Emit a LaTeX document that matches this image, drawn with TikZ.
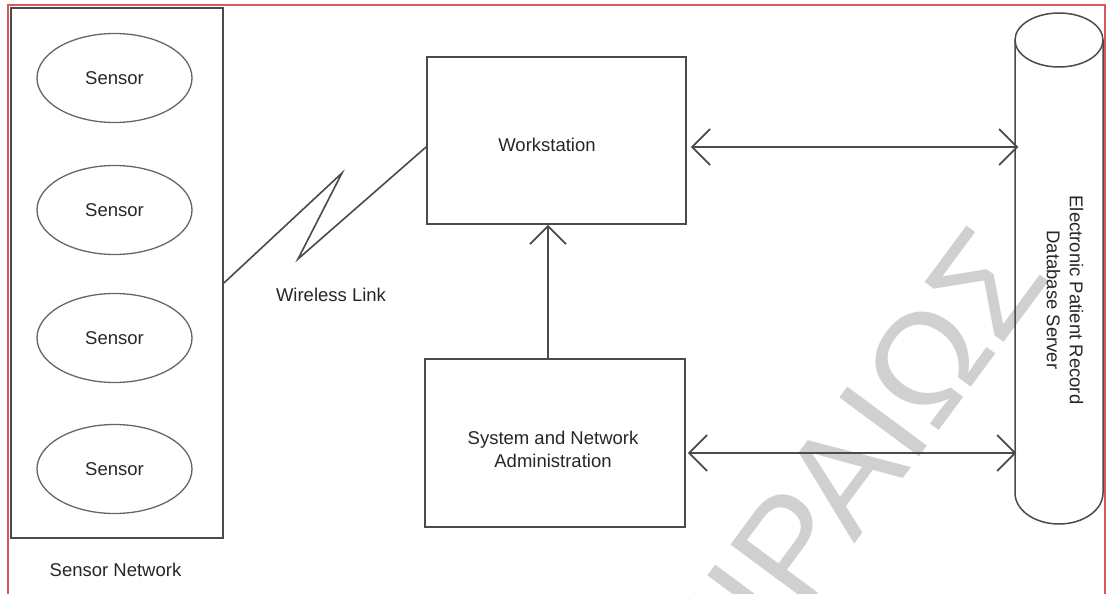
\documentclass[tikz,border=0pt]{standalone}
\usepackage{fontspec}
\setmainfont{Liberation Sans}
\usetikzlibrary{arrows.meta,shapes.geometric}

\definecolor{ink}{HTML}{4A4A4A}
\definecolor{txt}{HTML}{262626}
\definecolor{frame}{HTML}{D65A5A}
\definecolor{wm}{HTML}{D0D0D0}

\begin{document}
\begin{tikzpicture}[x=1pt,y=-1pt,
  box/.style={draw=ink, line width=1.8pt, rectangle, inner sep=0pt},
  sensor/.style={draw=ink!85, line width=1.3pt, ellipse, inner sep=0pt,
    minimum width=155pt, minimum height=89pt,
    font=\fontsize{18.5}{22}\selectfont, text=txt},
  lbl/.style={font=\fontsize{18.5}{23}\selectfont, text=txt, align=center, inner sep=0pt},
  link/.style={draw=ink, line width=1.6pt, line join=miter},
  conn/.style={draw=ink, line width=1.7pt},
  >={Straight Barb[length=18pt,width=36pt]}
]
\useasboundingbox (0,0) rectangle (1106,594);

% faint watermark lettering behind the drawing
\begin{scope}
  \clip (0,0) rectangle (1106,594);
  \node[rotate=53.5, text=wm, inner sep=0pt,
        font=\fontsize{144}{144}\selectfont] (wmark) at (816,512) {ΠΕΙΡΑΙΩΣ};
\end{scope}

% page frame, open at the bottom
\draw[frame, line width=1.4pt] (8,594) -- (8,5) -- (1105,5) -- (1105,594);

% sensor network
\node[box, minimum width=212pt, minimum height=530pt] (net) at (117,273) {};
\node[sensor] (s1) at (114.5,78) {Sensor};
\node[sensor] (s2) at (114.5,210) {Sensor};
\node[sensor] (s3) at (114.5,338) {Sensor};
\node[sensor] (s4) at (114.5,469) {Sensor};
\node[lbl] (netlbl) at (115.5,570) {Sensor Network};

% workstation and administration
\node[box, minimum width=259pt, minimum height=167pt] (ws) at (556.5,140.5) {};
\node[lbl] (wslbl) at (547,145) {Workstation};
\node[box, minimum width=260pt, minimum height=168pt] (adm) at (555,443) {};
\node[lbl] (admlbl) at (553,449) {System and Network\\Administration};

% database server cylinder
\node[draw=none, minimum width=89pt, minimum height=510pt, inner sep=0pt] (db) at (1059,269) {};
\draw[ink, line width=1.5pt] (1059,40) ellipse [x radius=44, y radius=27];
\draw[ink, line width=1.5pt] (1015,40) -- (1015,493)
  arc[start angle=180, end angle=0, x radius=44, y radius=31] -- (1103,40);
\node[lbl, rotate=-90] (dblbl) at (1065,300) {Electronic Patient Record\\Database Server};

% wireless link
\coordinate (z1) at (342,173);
\coordinate (z2) at (298,259);
\draw[link] ([yshift=-10pt]net.east) -- (z1) -- (z2) -- ([yshift=-6.5pt]ws.west);
\node[lbl] (wllbl) at (331,295) {Wireless Link};

% connections
\draw[conn, ->] ([xshift=-7pt]adm.north) -- ([xshift=-7pt]adm.north |- ws.south);
\draw[conn, <->] ([xshift=4pt,yshift=-6.5pt]ws.east) -- ([xshift=4pt,yshift=-6.5pt]ws.east -| db.west);
\draw[conn, <->] ([xshift=2pt,yshift=-10pt]adm.east) -- ([xshift=2pt,yshift=-10pt]adm.east -| db.west);
\end{tikzpicture}
\end{document}
